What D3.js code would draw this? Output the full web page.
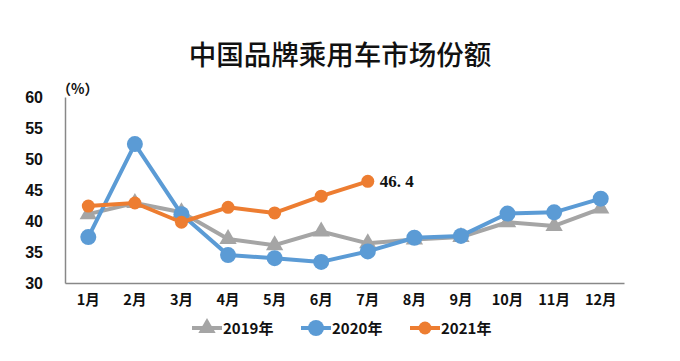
<!DOCTYPE html>
<html><head><meta charset="utf-8">
<script src="https://cdn.jsdelivr.net/npm/d3@7"></script>
<style>body{margin:0;background:#fff;}svg{display:block;}</style>
</head><body>
<svg id="c" width="680" height="361"></svg>
<script>
const months = ["1月","2月","3月","4月","5月","6月","7月","8月","9月","10月","11月","12月"];
const s2019 = [41.1,42.9,41.4,37.1,36.1,38.3,36.4,37.0,37.4,39.8,39.2,42.0];
const s2020 = [37.4,52.4,41.1,34.5,34.0,33.4,35.1,37.3,37.6,41.2,41.4,43.6];
const s2021 = [42.4,42.9,39.8,42.2,41.3,44.0,46.4];
const yTicks = [30,35,40,45,50,55,60];
const seriesNames = ["2019年","2020年","2021年"];
const colors = ["#A5A5A5","#5B9BD5","#ED7D31"];

const svg = d3.select("#c");
const mLeft = 65, mRight = 624, mTop = 97, mBottom = 283;
const x = d3.scaleBand().domain(months).range([mLeft, mRight]);
const y = d3.scaleLinear().domain([30,60]).range([mBottom, mTop]);
const cx = m => x(m) + x.bandwidth()/2;

svg.append("text").attr("x", 340).attr("y", 65).attr("text-anchor","middle")
  .attr("font-family","'Noto Sans CJK SC'").attr("font-weight",500).attr("font-size",27.5).attr("fill","#111").text("中国品牌乘用车市场份额");

// axes
const yAxis = svg.append("g").attr("transform",`translate(${mLeft},0)`)
  .call(d3.axisLeft(y).tickValues(yTicks).tickSize(0).tickPadding(22));
yAxis.select(".domain").attr("stroke","#888").attr("stroke-width",1.5);
yAxis.selectAll("text").attr("font-family","'Liberation Sans Narrow','Liberation Sans',sans-serif").attr("font-weight","bold").attr("font-size",16).attr("fill","#111");
const xAxis = svg.append("g").attr("transform",`translate(0,${mBottom})`)
  .call(d3.axisBottom(x).tickSize(0).tickPadding(12));
xAxis.select(".domain").attr("stroke","#888").attr("stroke-width",1.5);
xAxis.selectAll("text").attr("font-family","'Noto Sans CJK SC'").attr("font-weight","bold").attr("font-size",14.5).attr("fill","#111");

svg.append("text").attr("x",57).attr("y",94).attr("font-family","'Noto Sans CJK SC'").attr("font-weight","bold").attr("font-size",14).attr("fill","#111").text("（%）");

const line = d3.line().x((d,i)=>cx(months[i])).y(d=>y(d));
const tri = d3.symbol().type(d3.symbolTriangle).size(130);

function drawSeries(data, color, kind, r){
  svg.append("path").datum(data).attr("d",line).attr("fill","none").attr("stroke",color).attr("stroke-width",4).attr("stroke-linejoin","round");
  data.forEach((d,i)=>{
    if(kind==="tri"){
      svg.append("path").attr("d",tri).attr("transform",`translate(${cx(months[i])},${y(d)})`).attr("fill",color);
    } else {
      svg.append("circle").attr("cx",cx(months[i])).attr("cy",y(d)).attr("r",r).attr("fill",color);
    }
  });
}
drawSeries(s2019, colors[0], "tri");
drawSeries(s2020, colors[1], "circle", 8);
drawSeries(s2021, colors[2], "circle", 6.5);

const last = s2021.length-1;
svg.append("text").attr("x",cx(months[last])+12).attr("y",y(s2021[last])+6)
  .attr("font-family","'Liberation Serif',serif").attr("font-weight","bold").attr("font-size",17).attr("fill","#111").text(s2021[last].toFixed(1).replace(".",". "));

// legend
const legX = [192, 301, 410];
seriesNames.forEach((n,i)=>{
  const g = svg.append("g").attr("transform",`translate(${legX[i]},328)`);
  g.append("line").attr("x1",0).attr("x2",30).attr("stroke",colors[i]).attr("stroke-width",4);
  if(i===0) g.append("path").attr("d",tri).attr("transform","translate(15,0)").attr("fill",colors[i]);
  else g.append("circle").attr("cx",15).attr("cy",0).attr("r",i===1?8:6.5).attr("fill",colors[i]);
  g.append("text").attr("x",31).attr("y",6).attr("font-family","'Noto Sans CJK SC'").attr("font-weight","bold").attr("font-size",15).attr("fill","#111").text(n);
});
</script>
</body></html>
